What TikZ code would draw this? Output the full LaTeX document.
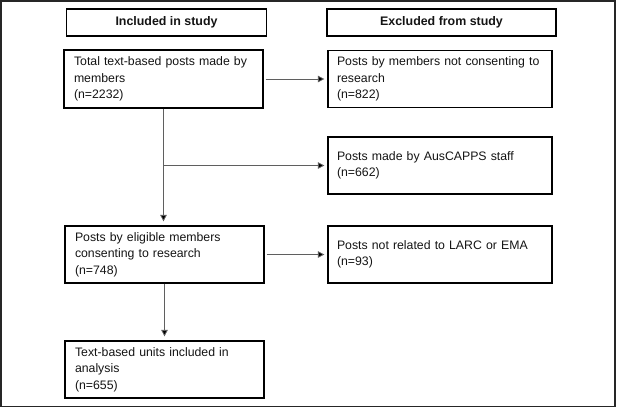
\documentclass[tikz,border=0pt]{standalone}
\usepackage{fontspec}
\setmainfont{Liberation Sans}
\usetikzlibrary{arrows.meta}
\definecolor{txt}{RGB}{20,20,20}
\definecolor{conn}{RGB}{95,95,95}
\tikzset{
  hdr/.style={draw=black, line width=1.3pt, minimum height=27pt, inner sep=0pt,
    font=\fontsize{12.4}{15}\selectfont\bfseries, text=txt},
  boxL/.style={draw=black, line width=1.3pt, minimum width=199pt, minimum height=57pt,
    text width=179pt, inner xsep=10pt, inner ysep=0pt, align=left,
    font=\fontsize{12.3}{16.5}\selectfont, text=txt},
  boxR/.style={boxL, minimum width=224pt, text width=206pt, inner xsep=9pt},
  conn/.style={draw=conn, line width=0.8pt},
  arr/.style={conn, -{Triangle[length=6.5pt,width=6.5pt,fill=black]}, shorten >=3pt},
}
\begin{document}
\begin{tikzpicture}[x=1pt,y=-1pt]
\useasboundingbox (0,0) rectangle (617,408);
\draw[line width=1.8pt, draw=black!85] (1.2,1.2) rectangle (615,406.5);

\node[hdr, minimum width=200pt] (inc) at (166.5,22.5) {Included in study};
\node[hdr, minimum width=229pt] (exc) at (441.5,22.5) {Excluded from study};

\node[boxL, minimum height=58pt] (b1) at (163.5,79) {Total text-based posts made by\\members\\(n=2232)};
\node[boxR] (b2) at (440,79) {\mbox{Posts by members not consenting to}\\research\\(n=822)};
\node[boxR] (b3) at (440,165.5) {Posts made by AusCAPPS staff\\(n=662)};
\node[boxL] (b4) at (164.5,254.5) {Posts by eligible members\\consenting to research\\(n=748)};
\node[boxR] (b5) at (440,254.5) {Posts not related to LARC or EMA\\(n=93)};
\node[boxL] (b6) at (164.5,369.5) {Text-based units included in\\analysis\\(n=655)};

\draw[arr, shorten <=2pt] (b1.east) -- (b2.west);
\draw[arr, shorten >=4pt] (b1.south) -- (b1.south |- b4.north);
\coordinate (br) at (b1.south |- b3.west);
\draw[arr] (br) -- (b3.west);
\draw[arr, shorten <=2pt] (b4.east) -- (b5.west);
\draw[arr, shorten >=4pt] (b4.south) -- (b6.north);
\end{tikzpicture}
\end{document}
